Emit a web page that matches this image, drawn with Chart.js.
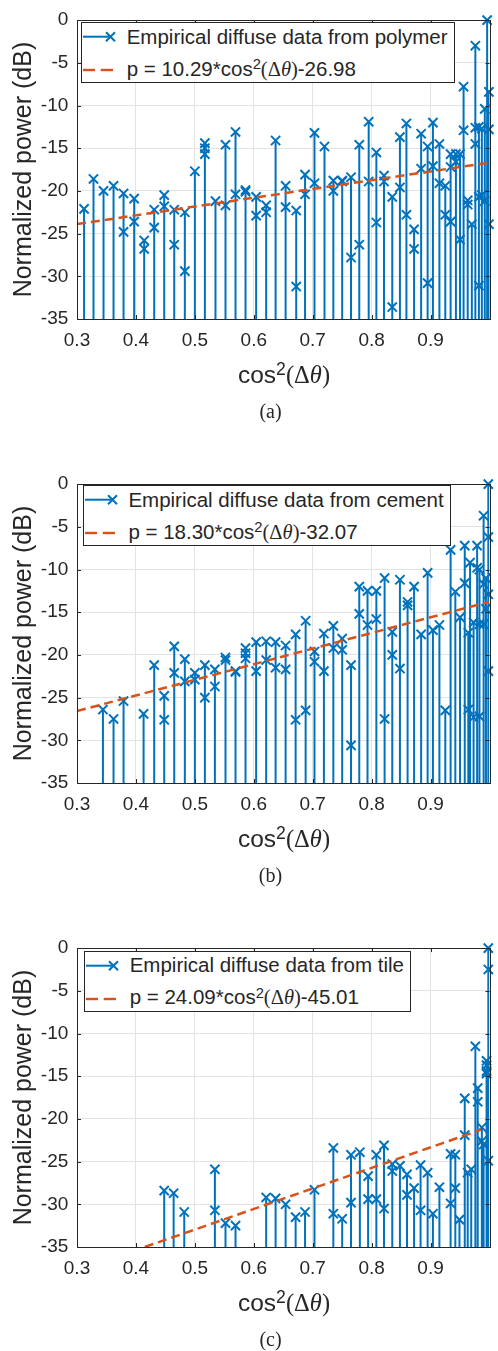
<!DOCTYPE html>
<html lang="en">
<head>
<meta charset="UTF-8">
<title>Empirical diffuse data vs cos2(dtheta)</title>
<script src="https://cdn.jsdelivr.net/npm/chart.js@4"></script>
<style>
  html, body { margin: 0; padding: 0; background: #fff; overflow: hidden; }
  body { width: 498px; height: 1351px; font-family: "Liberation Sans", Arial, sans-serif; color: #262626; }
  .panel { position: relative; width: 498px; height: 464px; overflow: hidden; }
  .panel.last { height: 423px; }
  .panel canvas { position: absolute; left: 0; top: 0; }
  .legend { position: absolute; background: #fff; border: 1px solid #262626; height: 61px; box-sizing: border-box;
            padding: 0 6px 0 44.7px; font-size: 20.5px; white-space: nowrap; }
  .legend .row { height: 32px; line-height: 32px; }
  .legend .row:first-of-type { margin-top: -2.5px; }
  .legend svg { position: absolute; left: 0; top: 0; }
  .tex { font-family: "Liberation Serif", "DejaVu Serif", serif; }
  sup { font-size: 0.72em; line-height: 0; vertical-align: baseline; position: relative; top: -0.45em; }
  .xlabel { position: absolute; left: 0; width: 568px; text-align: center; font-size: 24.5px; line-height: 25px; top: 362px; }
  .caption { position: absolute; left: 220px; width: 101px; text-align: center; font-family: "Liberation Serif", serif;
             font-size: 20px; line-height: 20px; top: 401px; }
</style>
</head>
<body>
<div id="figure"></div>
<script>
// ---- data ----
const xTicks = [0.3, 0.4, 0.5, 0.6, 0.7, 0.8, 0.9];
const yTicks = [-35, -30, -25, -20, -15, -10, -5, 0];
const baseValue = -35;

const materials = ['polymer', 'cement', 'tile'];
const slopes = ['10.29', '18.30', '24.09'];
const intercepts = ['26.98', '32.07', '45.01'];
const captions = ['(a)', '(b)', '(c)'];

// (a) polymer
const xA = [0.312, 0.328, 0.345, 0.362, 0.379, 0.379, 0.397, 0.397, 0.414, 0.414,
  0.431, 0.431, 0.448, 0.448, 0.465, 0.465, 0.483, 0.483, 0.500, 0.517, 0.517, 0.517,
  0.535, 0.552, 0.552, 0.569, 0.569, 0.586, 0.586, 0.604, 0.604, 0.621, 0.621, 0.637,
  0.654, 0.654, 0.672, 0.672, 0.687, 0.687, 0.703, 0.703, 0.720, 0.735, 0.735,
  0.750, 0.750, 0.765, 0.765, 0.779, 0.779, 0.795, 0.795, 0.808, 0.808, 0.821, 0.821,
  0.835, 0.835, 0.848, 0.848, 0.859, 0.859, 0.872, 0.872, 0.884, 0.884, 0.895, 0.895,
  0.904, 0.904, 0.915, 0.915, 0.925, 0.925, 0.934, 0.934, 0.934, 0.943, 0.943,
  0.950, 0.950, 0.956, 0.956, 0.963, 0.963, 0.970, 0.976, 0.976, 0.976,
  0.982, 0.982, 0.982, 0.987, 0.987, 0.992, 0.992, 0.996, 0.999, 0.999, 0.999];
const yA = [-22.1, -18.6, -20.0, -19.4, -20.3, -24.8, -20.9, -23.6, -25.8, -26.8,
  -22.2, -24.3, -20.5, -21.8, -22.2, -26.3, -22.5, -29.4, -17.7, -14.4, -15.0, -15.7,
  -21.2, -14.6, -21.7, -13.1, -20.4, -19.9, -20.1, -20.7, -22.9, -21.7, -22.5, -14.1,
  -19.4, -21.9, -22.3, -31.2, -18.1, -20.4, -13.2, -19.1, -14.8, -18.8, -20.0,
  -18.8, -18.9, -18.4, -27.8, -14.6, -26.3, -11.9, -18.9, -15.5, -23.7, -18.2, -18.9,
  -20.7, -33.6, -13.7, -19.6, -12.1, -22.8, -24.5, -26.8, -13.3, -17.4, -14.8, -30.8,
  -12.0, -17.1, -14.5, -19.1, -19.4, -22.8, -15.7, -17.2, -23.6, -15.7, -16.6,
  -15.7, -25.7, -7.8, -12.9, -21.1, -21.6, -23.9, -3.0, -12.6, -14.5,
  -12.5, -20.7, -31.1, -12.7, -20.5, -10.4, -21.2, 0.0, -8.4, -12.8, -23.9];
const fitA = [{ x: 0.3, y: -23.89 }, { x: 0.998, y: -16.71 }];

// (b) cement
const xB = [0.344, 0.362, 0.379, 0.413, 0.431, 0.448, 0.448, 0.465, 0.465, 0.483, 0.483,
  0.500, 0.500, 0.517, 0.517, 0.534, 0.534, 0.552, 0.552, 0.569, 0.569, 0.586, 0.586, 0.586,
  0.604, 0.604, 0.621, 0.621, 0.637, 0.637, 0.654, 0.654, 0.671, 0.671, 0.688, 0.688,
  0.703, 0.703, 0.719, 0.719, 0.735, 0.735, 0.750, 0.750, 0.765, 0.765, 0.779, 0.779,
  0.793, 0.793, 0.808, 0.808, 0.822, 0.822, 0.835, 0.835, 0.848, 0.848, 0.861, 0.861,
  0.872, 0.884, 0.895, 0.904, 0.915, 0.925, 0.934, 0.942, 0.950, 0.958, 0.958,
  0.964, 0.964, 0.967, 0.973, 0.973, 0.979, 0.979, 0.983, 0.983, 0.983,
  0.990, 0.990, 0.990, 0.994, 0.994, 0.998, 0.998, 0.998, 0.998];
const yB = [-26.4, -27.5, -25.4, -26.9, -21.2, -24.8, -27.6, -19.0, -22.1, -20.5, -23.1,
  -22.1, -22.9, -21.2, -25.0, -21.7, -23.7, -20.3, -20.6, -21.9, -22.0, -19.2, -19.8, -20.4,
  -18.5, -21.9, -18.4, -20.6, -18.5, -21.5, -18.9, -21.7, -17.6, -27.6, -16.0, -26.5,
  -19.6, -20.8, -17.5, -21.9, -16.6, -19.2, -18.1, -19.4, -21.2, -30.6, -12.0, -15.2,
  -12.5, -16.5, -12.5, -15.8, -11.0, -27.5, -17.3, -20.0, -11.2, -21.6, -13.8, -14.2,
  -12.0, -17.6, -10.4, -17.1, -16.5, -26.5, -7.7, -12.6, -15.6, -7.2, -11.6,
  -17.4, -26.4, -9.2, -16.2, -27.3, -7.2, -9.8, -10.0, -16.4, -27.2,
  -3.7, -11.7, -16.4, -11.0, -14.6, 0.0, -6.2, -12.9, -21.9];
const fitB = [{ x: 0.3, y: -26.58 }, { x: 0.999, y: -13.79 }];

// (c) tile
const xC = [0.448, 0.464, 0.482, 0.534, 0.534, 0.552, 0.569, 0.621, 0.637, 0.654, 0.671,
  0.687, 0.703, 0.735, 0.735, 0.750, 0.765, 0.765, 0.780, 0.794, 0.794, 0.808, 0.808,
  0.821, 0.821, 0.835, 0.835, 0.848, 0.860, 0.860, 0.872, 0.883, 0.883, 0.895, 0.904,
  0.915, 0.934, 0.934, 0.942, 0.942, 0.949, 0.958, 0.958, 0.963, 0.969, 0.976,
  0.980, 0.980, 0.987, 0.987, 0.990, 0.995, 0.995, 0.995, 0.995, 0.998, 0.998, 0.998];
const yC = [-28.4, -28.7, -30.9, -25.9, -30.7, -32.2, -32.5, -29.2, -29.3, -30.0, -31.5,
  -30.9, -28.3, -23.4, -31.1, -31.7, -24.2, -29.8, -23.9, -26.7, -29.4, -24.2, -29.4,
  -23.1, -30.5, -25.3, -26.1, -25.5, -26.5, -28.9, -28.1, -25.4, -30.7, -26.3, -31.1,
  -28.0, -24.1, -29.9, -24.2, -28.1, -31.8, -17.6, -21.9, -26.3, -25.9, -11.5,
  -16.4, -18.0, -21.0, -22.6, -23.0, -13.2, -13.7, -14.4, -14.7, 0.0, -2.5, -24.9];
const fitC = [{ x: 0.415, y: -35.0 }, { x: 0.986, y: -21.26 }];

const panels = [
  { xs: xA, ys: yA, fit: fitA, legendLeft: 81, legendTop: 22 },
  { xs: xB, ys: yB, fit: fitB, legendLeft: 82.7, legendTop: 21 },
  { xs: xC, ys: yC, fit: fitC, legendLeft: 84, legendTop: 22.7 }
];

const blue = '#0072BD';
const orange = '#D95319';
const axisColor = '#262626';

// stems: base -> value, broken by a null point
function stemPoints(xs, ys) {
  const pts = [];
  xs.forEach((x, i) => {
    pts.push({ x: x, y: baseValue }, { x: x, y: ys[i] }, { x: x, y: null });
  });
  return pts;
}

// box around the axes with inward tick marks, like MATLAB
const boxPlugin = {
  id: 'box',
  afterDatasetsDraw(chart) {
    const { ctx, chartArea: a, scales } = chart;
    ctx.save();
    ctx.strokeStyle = axisColor;
    ctx.lineWidth = 1;
    ctx.beginPath();
    xTicks.concat([1.0]).forEach(v => {
      const px = Math.round(scales.x.getPixelForValue(v)) + 0.5;
      ctx.moveTo(px, a.bottom); ctx.lineTo(px, a.bottom - 4);
      ctx.moveTo(px, a.top); ctx.lineTo(px, a.top + 4);
    });
    yTicks.forEach(v => {
      const py = Math.round(scales.y.getPixelForValue(v)) + 0.5;
      ctx.moveTo(a.left, py); ctx.lineTo(a.left + 4, py);
      ctx.moveTo(a.right, py); ctx.lineTo(a.right - 4, py);
    });
    ctx.stroke();
    ctx.strokeRect(Math.round(a.left) + 0.5, Math.round(a.top) + 0.5,
      Math.round(a.right - a.left), Math.round(a.bottom - a.top));
    ctx.restore();
  }
};

const fig = document.getElementById('figure');

panels.forEach((p, idx) => {
  const panel = document.createElement('div');
  panel.className = 'panel' + (idx === 2 ? ' last' : '');
  const canvas = document.createElement('canvas');
  canvas.width = 498;
  canvas.height = 464;
  panel.appendChild(canvas);

  const legend = document.createElement('div');
  legend.className = 'legend';
  legend.style.left = p.legendLeft + 'px';
  legend.style.top = p.legendTop + 'px';
  legend.innerHTML =
    '<svg width="40" height="59" viewBox="0 0 40 59">' +
    '<line x1="1" y1="13.7" x2="30" y2="13.7" stroke="' + blue + '" stroke-width="2"/>' +
    '<path d="M24 9.2 L33 18.2 M24 18.2 L33 9.2" stroke="' + blue + '" stroke-width="2" fill="none"/>' +
    '<line x1="1" y1="47" x2="13" y2="47" stroke="' + orange + '" stroke-width="2.4"/>' +
    '<line x1="18.7" y1="47" x2="31" y2="47" stroke="' + orange + '" stroke-width="2.4"/>' +
    '</svg>' +
    '<div class="row">Empirical diffuse data from ' + materials[idx] + '</div>' +
    '<div class="row">p = ' + slopes[idx] + '*cos<sup>2</sup><span class="tex">(\u0394<i>\u03B8</i>)</span>-' + intercepts[idx] + '</div>';
  panel.appendChild(legend);

  const xlabel = document.createElement('div');
  xlabel.className = 'xlabel';
  xlabel.innerHTML = 'cos<sup>2</sup><span class="tex">(\u0394<i>\u03B8</i>)</span>';
  panel.appendChild(xlabel);

  const cap = document.createElement('div');
  cap.className = 'caption';
  cap.textContent = captions[idx];
  panel.appendChild(cap);

  fig.appendChild(panel);

  new Chart(canvas.getContext('2d'), {
    type: 'scatter',
    data: {
      datasets: [
        {
          type: 'line',
          data: p.fit,
          borderColor: orange,
          borderWidth: 2.5,
          borderDash: [9, 5],
          pointRadius: 0,
          order: 0
        },
        {
          data: p.xs.map((x, i) => ({ x: x, y: p.ys[i] })),
          pointStyle: 'crossRot',
          pointRadius: 6.5,
          borderColor: blue,
          backgroundColor: blue,
          pointBorderWidth: 2,
          clip: false,
          order: 1
        },
        {
          type: 'line',
          data: stemPoints(p.xs, p.ys),
          borderColor: blue,
          borderWidth: 2,
          pointRadius: 0,
          spanGaps: false,
          order: 2
        }
      ]
    },
    options: {
      responsive: false,
      animation: false,
      events: [],
      layout: { padding: { top: 16, right: 6, left: 0, bottom: 0 } },
      plugins: { legend: { display: false }, tooltip: { enabled: false } },
      scales: {
        x: {
          type: 'linear',
          min: 0.3,
          max: 1.0,
          afterBuildTicks: s => { s.ticks = xTicks.map(v => ({ value: v })); },
          afterFit: s => { s.height = 145; },
          grid: { color: '#e3e3e3', drawTicks: false },
          border: { display: false },
          ticks: {
            padding: 10,
            maxRotation: 0,
            color: axisColor,
            font: { family: '"Liberation Sans", Arial, sans-serif', size: 19 },
            callback: v => v.toFixed(1)
          }
        },
        y: {
          min: -35,
          max: 0,
          afterBuildTicks: s => { s.ticks = yTicks.map(v => ({ value: v })); },
          afterFit: s => { s.width = 77; },
          grid: { color: '#e3e3e3', drawTicks: false },
          border: { display: false },
          ticks: {
            padding: 8.7,
            color: axisColor,
            font: { family: '"Liberation Sans", Arial, sans-serif', size: 19 },
            callback: v => String(v)
          },
          title: {
            display: true,
            text: 'Normalized power (dB)',
            color: axisColor,
            font: { family: '"Liberation Sans", Arial, sans-serif', size: 25 },
            padding: { top: 9.6, bottom: 0 }
          }
        }
      }
    },
    plugins: [boxPlugin]
  });
});
</script>
</body>
</html>
